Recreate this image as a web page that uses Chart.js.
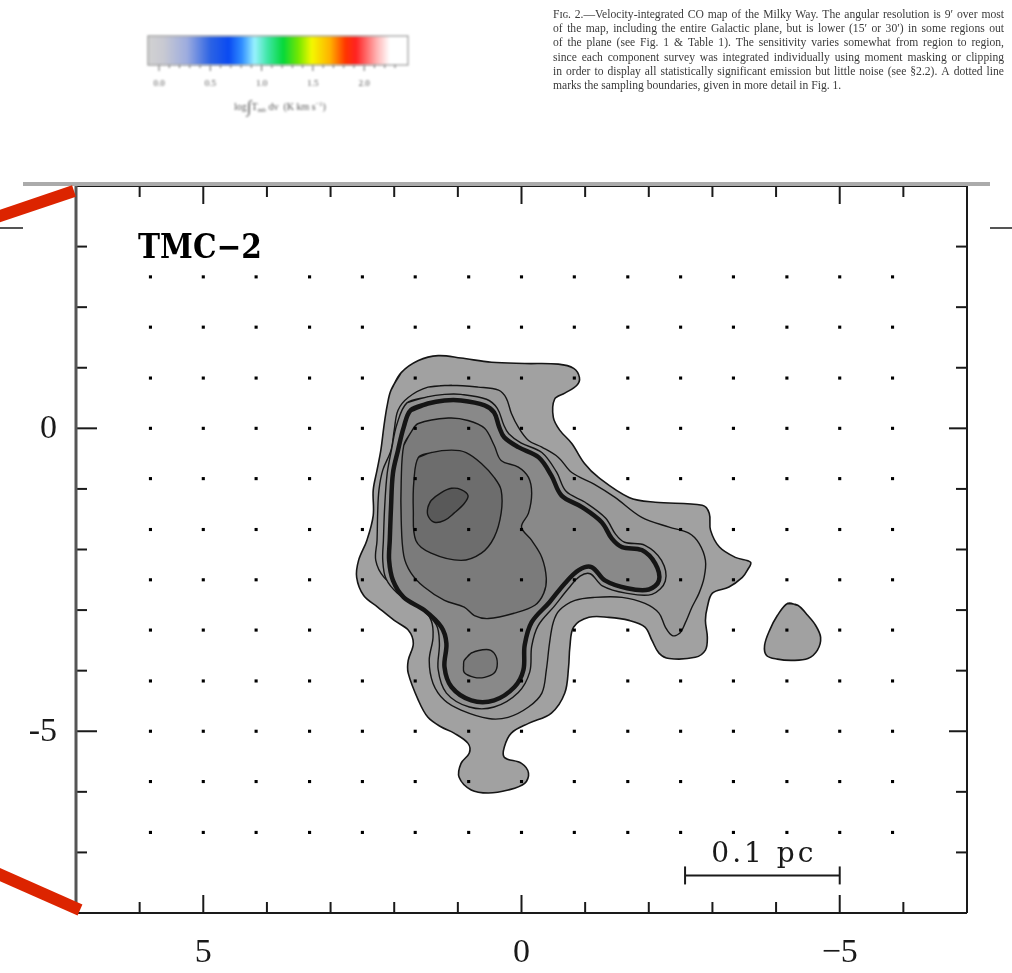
<!DOCTYPE html>
<html>
<head>
<meta charset="utf-8">
<title>TMC-2</title>
<script src="https://cdn.jsdelivr.net/npm/chart.js@4.4.1/dist/chart.umd.min.js"></script>
<style>
  html, body { margin: 0; padding: 0; background: #fff; }
  #wrap { width: 1012px; height: 973px; }
</style>
</head>
<body>
<div id="wrap"><canvas id="map" width="1012" height="973"></canvas></div>
<script>
// Axis ticks (offsets in arcmin)
const xMajorTicks = [5, 0, -5];
const xTickLabels = ['5', '0', '\u22125'];
const xMinorTicks = [6, 4, 3, 2, 1, -1, -2, -3, -4, -6];
const yMajorTicks = [0, -5];
const yTickLabels = ['0', '-5'];
const yMinorTicks = [3, 2, 1, -1, -2, -3, -4, -6, -7];

// Sampled map positions (50" grid)
const dotCols = [5.83, 5, 4.17, 3.33, 2.5, 1.67, 0.83, 0, -0.83, -1.67, -2.5, -3.33, -4.17, -5, -5.83];
const dotRows = [2.5, 1.67, 0.83, 0, -0.83, -1.67, -2.5, -3.33, -4.17, -5, -5.83, -6.67];

// Contour levels, lowest first: [x offset, y offset]
const level1 = [
  [2.05,0.63],[1.89,0.92],[1.62,1.12],[1.31,1.20],[0.95,1.16],[0.47,1.09],[-0.05,1.07],[-0.58,1.06],
  [-0.82,0.99],[-0.91,0.84],[-0.87,0.71],[-0.68,0.58],[-0.52,0.48],[-0.50,0.18],[-0.60,-0.03],[-0.79,-0.25],
  [-0.99,-0.58],[-1.21,-0.81],[-1.69,-1.14],[-2.10,-1.22],[-2.84,-1.27],[-2.95,-1.40],[-2.97,-1.68],[-3.11,-1.96],
  [-3.36,-2.13],[-3.60,-2.21],[-3.55,-2.34],[-3.47,-2.46],[-3.26,-2.62],[-3.00,-2.72],[-2.92,-2.95],[-2.89,-3.17],
  [-2.92,-3.45],[-2.89,-3.66],[-2.73,-3.78],[-2.32,-3.80],[-2.16,-3.71],[-2.05,-3.50],[-1.94,-3.28],[-1.69,-3.17],
  [-1.37,-3.12],[-1.06,-3.12],[-0.82,-3.28],[-0.76,-3.61],[-0.74,-3.94],[-0.68,-4.37],[-0.47,-4.70],[-0.11,-4.87],
  [0.16,-5.03],[0.27,-5.26],[0.27,-5.43],[0.00,-5.53],[-0.11,-5.69],[-0.05,-5.86],[0.21,-5.97],[0.52,-6.02],
  [0.79,-5.97],[0.98,-5.76],[0.95,-5.53],[0.82,-5.36],[0.84,-5.20],[1.06,-5.03],[1.26,-4.93],[1.47,-4.77],
  [1.62,-4.49],[1.78,-4.04],[1.78,-3.83],[1.70,-3.55],[1.78,-3.33],[2.00,-3.17],[2.26,-2.95],[2.48,-2.76],
  [2.59,-2.46],[2.56,-2.18],[2.43,-1.85],[2.33,-1.44],[2.33,-1.02],[2.27,-0.69],[2.21,-0.36],[2.16,0.05],[2.11,0.38]
];
const level1Knot = [
  [-4.18,-2.89],[-4.34,-2.92],[-4.50,-3.09],[-4.62,-3.25],[-4.70,-3.45],[-4.65,-3.66],[-4.50,-3.80],
  [-4.26,-3.83],[-4.02,-3.81],[-3.85,-3.75],[-3.82,-3.58],[-3.90,-3.33],[-4.02,-3.09]
];
const level2 = [
  [1.47,0.68],[1.10,0.71],[0.68,0.68],[0.36,0.63],[0.24,0.50],[0.16,0.25],[0.05,0.02],[-0.11,-0.20],
  [-0.32,-0.31],[-0.58,-0.48],[-0.79,-0.73],[-1.14,-0.92],[-1.47,-1.14],[-1.89,-1.47],[-2.32,-1.63],[-2.63,-1.73],
  [-2.79,-1.90],[-2.89,-2.18],[-2.87,-2.46],[-2.79,-2.72],[-2.68,-2.95],[-2.57,-3.22],[-2.49,-3.38],[-2.37,-3.42],
  [-2.26,-3.28],[-2.16,-3.05],[-1.94,-2.89],[-1.58,-2.79],[-1.15,-2.79],[-0.84,-2.84],[-0.60,-3.00],[-0.50,-3.20],
  [-0.44,-3.55],[-0.39,-3.99],[-0.32,-4.37],[-0.11,-4.60],[0.21,-4.77],[0.52,-4.79],[0.95,-4.65],[1.21,-4.49],
  [1.39,-4.21],[1.45,-3.83],[1.39,-3.45],[1.42,-3.17],[1.61,-2.89],[1.89,-2.67],[2.16,-2.46],[2.29,-2.18],
  [2.27,-1.85],[2.26,-1.40],[2.24,-1.02],[2.18,-0.69],[2.05,-0.36],[2.00,-0.03],[1.94,0.30],[1.78,0.51]
];
const level3 = [
  [1.80,0.42],[1.48,0.52],[1.21,0.56],[0.95,0.56],[0.55,0.48],[0.38,0.33],[0.28,0.06],[0.20,-0.09],
  [0.01,-0.24],[-0.32,-0.40],[-0.55,-0.72],[-0.70,-1.04],[-1.00,-1.22],[-1.32,-1.48],[-1.48,-1.75],[-1.62,-1.88],
  [-1.94,-1.93],[-2.20,-2.18],[-2.26,-2.52],[-2.05,-2.74],[-1.64,-2.72],[-1.27,-2.60],[-1.08,-2.40],[-0.92,-2.44],
  [-0.74,-2.64],[-0.52,-2.93],[-0.26,-3.26],[-0.16,-3.60],[-0.13,-4.02],[0.05,-4.36],[0.43,-4.60],[0.82,-4.60],
  [1.18,-4.37],[1.31,-3.98],[1.29,-3.55],[1.34,-3.24],[1.62,-2.94],[1.95,-2.72],[2.13,-2.48],[2.18,-2.18],
  [2.17,-1.85],[2.15,-1.30],[2.11,-0.74],[2.04,-0.34],[1.96,0.06]
];
const level4 = [
  [1.74,0.30],[1.47,0.41],[1.21,0.46],[0.95,0.46],[0.58,0.38],[0.43,0.26],[0.35,0.02],[0.27,-0.15],
  [0.05,-0.31],[-0.27,-0.48],[-0.47,-0.78],[-0.63,-1.11],[-0.95,-1.30],[-1.26,-1.55],[-1.42,-1.82],[-1.58,-1.96],
  [-1.89,-2.01],[-2.10,-2.23],[-2.16,-2.51],[-2.00,-2.66],[-1.66,-2.64],[-1.31,-2.51],[-1.10,-2.29],[-0.90,-2.34],
  [-0.68,-2.56],[-0.44,-2.87],[-0.16,-3.20],[-0.05,-3.58],[-0.03,-3.99],[0.11,-4.27],[0.43,-4.49],[0.79,-4.49],
  [1.10,-4.27],[1.21,-3.94],[1.18,-3.55],[1.26,-3.28],[1.53,-3.00],[1.85,-2.79],[2.02,-2.51],[2.08,-2.18],
  [2.07,-1.85],[2.05,-1.30],[2.02,-0.74],[1.94,-0.36],[1.85,0.02]
];
const level5 = [
  [1.85,-0.28],[1.74,-0.07],[1.62,0.08],[1.15,0.17],[0.84,0.13],[0.58,0.00],[0.43,-0.28],[0.32,-0.53],
  [0.05,-0.64],[-0.11,-0.81],[-0.16,-1.07],[-0.11,-1.40],[0.00,-1.63],[-0.16,-1.85],[-0.32,-2.13],[-0.39,-2.48],
  [-0.35,-2.72],[-0.21,-2.92],[0.11,-3.05],[0.52,-3.14],[0.74,-3.09],[0.90,-2.95],[1.21,-2.84],[1.53,-2.62],
  [1.74,-2.38],[1.85,-2.10],[1.89,-1.52],[1.89,-0.86]
];
const level5Knot = [
  [0.90,-3.83],[0.79,-3.71],[0.55,-3.65],[0.43,-3.71],[0.38,-3.88],[0.43,-4.04],[0.58,-4.11],[0.74,-4.11],
  [0.90,-4.03],[0.91,-3.91]
];
const level6 = [
  [1.62,-0.48],[1.42,-0.40],[1.10,-0.36],[0.87,-0.40],[0.63,-0.58],[0.43,-0.81],[0.32,-1.02],[0.32,-1.40],
  [0.43,-1.80],[0.63,-2.06],[0.95,-2.18],[1.42,-2.06],[1.66,-1.85],[1.70,-1.35],[1.69,-0.86]
];
const level7 = [
  [1.47,-1.30],[1.42,-1.19],[1.26,-1.06],[1.10,-0.99],[0.95,-1.01],[0.84,-1.11],[0.90,-1.24],[1.06,-1.40],
  [1.21,-1.52],[1.37,-1.55],[1.47,-1.44]
];

// Scale bar: 0.1 pc at the distance of TMC-2
const scaleBarFrom = -2.57;
const scaleBarTo = -5.0;
const scaleBarY = -7.38;
const scaleBarText = '0.1 pc';
const sourceName = 'TMC\u22122';

// Colour bar of the neighbouring figure
const colorbarTicks = ['0.0', '0.5', '1.0', '1.5', '2.0'];
const captionLines = [
  'F\u026a\u0262. 2.\u2014Velocity-integrated CO map of the Milky Way. The angular resolution is 9\u2032 over most',
  'of the map, including the entire Galactic plane, but is lower (15\u2032 or 30\u2032) in some regions out',
  'of the plane (see Fig. 1 & Table 1). The sensitivity varies somewhat from region to region,',
  'since each component survey was integrated individually using moment masking or clipping',
  'in order to display all statistically significant emission but little noise (see \u00a72.2). A dotted line',
  'marks the sampling boundaries, given in more detail in Fig. 1.'
];

// ---- styling of the contour levels ----
const contourStyles = [
  { pts: level1,     shade: '#a1a1a1', width: 1.6 },
  { pts: level1Knot, shade: '#a1a1a1', width: 1.6 },
  { pts: level2,     shade: '#9a9a9a', width: 1.4 },
  { pts: level3,     shade: '#939393', width: 1.4 },
  { pts: level4,     shade: '#898989', width: 4.5 },
  { pts: level5,     shade: '#7b7b7b', width: 1.4 },
  { pts: level5Knot, shade: '#7b7b7b', width: 1.4 },
  { pts: level6,     shade: '#6d6d6d', width: 1.4 },
  { pts: level7,     shade: '#595959', width: 1.4 }
];

const datasets = contourStyles.map((c, i) => ({
  type: 'line',
  data: c.pts.concat([c.pts[0], c.pts[1]]).map(p => ({ x: p[0], y: p[1] })),
  borderColor: '#151515',
  borderWidth: c.width,
  borderJoinStyle: 'round',
  borderCapStyle: 'round',
  shadeColor: c.shade,
  fill: false,
  tension: 0.35,
  pointRadius: 0,
  order: 100 - i
}));

const dotPoints = [];
for (const yy of dotRows) for (const xx of dotCols) dotPoints.push({ x: xx, y: yy });
datasets.push({
  type: 'scatter',
  data: dotPoints,
  pointStyle: 'rect',
  pointRadius: 2.2,
  backgroundColor: '#000',
  borderWidth: 0,
  order: 0
});

// fills each closed contour with its grey shade before the outline is stroked
const contourFill = {
  id: 'contourFill',
  beforeDatasetDraw(chart, args) {
    const ds = chart.data.datasets[args.index];
    if (!ds.shadeColor) return;
    const line = args.meta.dataset;
    const { ctx, chartArea } = chart;
    line.updateControlPoints(chartArea, 'x');
    ctx.save();
    ctx.beginPath();
    line.path(ctx);
    ctx.closePath();
    ctx.fillStyle = ds.shadeColor;
    ctx.fill();
    ctx.restore();
  }
};

function seg(ctx, x0, y0, x1, y1) {
  ctx.beginPath(); ctx.moveTo(x0, y0); ctx.lineTo(x1, y1); ctx.stroke();
}

// box, inward ticks, tick labels, scale bar and source name
const frame = {
  id: 'frame',
  afterDatasetsDraw(chart) {
    const { ctx, chartArea: a, scales: { x, y } } = chart;
    ctx.save();
    ctx.strokeStyle = '#1a1a1a';
    ctx.lineWidth = 2;
    const major = 18, minor = 11;
    xMajorTicks.forEach(v => { const p = x.getPixelForValue(v); seg(ctx, p, a.bottom, p, a.bottom - major); seg(ctx, p, a.top, p, a.top + major); });
    xMinorTicks.forEach(v => { const p = x.getPixelForValue(v); seg(ctx, p, a.bottom, p, a.bottom - minor); seg(ctx, p, a.top, p, a.top + minor); });
    yMajorTicks.forEach(v => { const p = y.getPixelForValue(v); seg(ctx, a.left, p, a.left + major + 3, p); seg(ctx, a.right, p, a.right - major, p); });
    yMinorTicks.forEach(v => { const p = y.getPixelForValue(v); seg(ctx, a.left, p, a.left + minor, p); seg(ctx, a.right, p, a.right - minor, p); });

    // frame
    seg(ctx, a.left, a.top, a.right, a.top);
    seg(ctx, a.right, a.top, a.right, a.bottom);
    seg(ctx, a.left, a.bottom, a.right, a.bottom);
    ctx.strokeStyle = '#555';
    ctx.lineWidth = 3;
    seg(ctx, a.left, a.top - 1, a.left, a.bottom + 1);

    // tick labels
    ctx.fillStyle = '#1a1a1a';
    ctx.font = '34px "Liberation Serif"';
    ctx.textAlign = 'center';
    ctx.textBaseline = 'alphabetic';
    xMajorTicks.forEach((v, i) => ctx.fillText(xTickLabels[i], x.getPixelForValue(v), a.bottom + 49));
    ctx.textAlign = 'right';
    ctx.textBaseline = 'middle';
    yMajorTicks.forEach((v, i) => ctx.fillText(yTickLabels[i], a.left - 19, y.getPixelForValue(v) + 1));

    // scale bar
    const bx0 = x.getPixelForValue(scaleBarFrom), bx1 = x.getPixelForValue(scaleBarTo), by = y.getPixelForValue(scaleBarY);
    ctx.strokeStyle = '#1a1a1a';
    ctx.lineWidth = 2;
    seg(ctx, bx0, by, bx1, by);
    seg(ctx, bx0, by - 9, bx0, by + 9);
    seg(ctx, bx1, by - 9, bx1, by + 9);
    ctx.font = '28px "DejaVu Serif"';
    ctx.textAlign = 'left';
    ctx.textBaseline = 'alphabetic';
    const sp = 3;
    if ('letterSpacing' in ctx) ctx.letterSpacing = sp + 'px';
    const tw = ctx.measureText(scaleBarText).width - sp;
    ctx.fillText(scaleBarText, (bx0 + bx1) / 2 - tw / 2, by - 13);
    if ('letterSpacing' in ctx) ctx.letterSpacing = '0px';

    // source name
    ctx.font = 'bold 34px "DejaVu Serif"';
    const nw = ctx.measureText(sourceName).width;
    ctx.save();
    ctx.translate(a.left + 62, a.top + 72);
    ctx.scale(124 / nw, 0.96);
    ctx.fillStyle = '#000';
    ctx.fillText(sourceName, 0, 0);
    ctx.restore();
    ctx.restore();
  }
};

function justify(ctx, text, x0, y0, width, last) {
  if (last) { ctx.fillText(text, x0, y0); return; }
  const words = text.split(' ');
  const total = words.reduce((s, w) => s + ctx.measureText(w).width, 0);
  const gap = (width - total) / (words.length - 1);
  let cx = x0;
  words.forEach(w => { ctx.fillText(w, cx, y0); cx += ctx.measureText(w).width + gap; });
}

// surroundings of the panel: zoom guides, neighbouring colour bar and caption
const surroundings = {
  id: 'surroundings',
  beforeDraw(chart) {
    const { ctx } = chart;
    ctx.save();
    ctx.fillStyle = '#fff';
    ctx.fillRect(0, 0, chart.width, chart.height);
    ctx.restore();
  },
  afterDraw(chart) {
    const { ctx, chartArea: a } = chart;
    ctx.save();
    // rule above the panel and edge stubs
    ctx.strokeStyle = '#ababab';
    ctx.lineWidth = 4;
    seg(ctx, 23, a.top - 2, 990, a.top - 2);
    ctx.strokeStyle = '#555';
    ctx.lineWidth = 2;
    seg(ctx, 0, 228, 23, 228);
    seg(ctx, 990, 228, 1012, 228);
    // red zoom guides
    ctx.strokeStyle = '#dc2400';
    ctx.lineWidth = 12;
    ctx.lineCap = 'butt';
    seg(ctx, -6, 218, 74, 191);
    seg(ctx, -6, 872, 80, 910);

    // colour bar
    ctx.filter = 'blur(0.9px)';
    const cx0 = 148, cx1 = 408, cy0 = 36, cy1 = 65;
    const g = ctx.createLinearGradient(cx0, 0, cx1, 0);
    [[0, '#d2d2d2'], [0.06, '#c8c9d2'], [0.15, '#9dacdf'], [0.24, '#2c63e4'], [0.31, '#0a4af2'],
     [0.36, '#2f8cff'], [0.41, '#98f2ff'], [0.46, '#3fe6a6'], [0.52, '#05d83a'], [0.58, '#77e800'],
     [0.63, '#f4f800'], [0.70, '#ffb200'], [0.76, '#ff3500'], [0.80, '#ff2222'], [0.88, '#ffb3b3'],
     [0.93, '#ffffff'], [1, '#ffffff']].forEach(s => g.addColorStop(s[0], s[1]));
    ctx.fillStyle = g;
    ctx.fillRect(cx0, cy0, cx1 - cx0, cy1 - cy0);
    ctx.strokeStyle = '#999';
    ctx.lineWidth = 1.2;
    ctx.strokeRect(cx0, cy0, cx1 - cx0, cy1 - cy0);
    ctx.strokeStyle = '#666';
    ctx.lineWidth = 1;
    for (let k = 0; k <= 23; k++) {
      const tx = 159 + k * 10.26;
      seg(ctx, tx, cy1, tx, cy1 + (k % 5 === 0 ? 6 : 3));
    }
    ctx.fillStyle = '#555';
    ctx.font = '9px "Liberation Serif"';
    ctx.textAlign = 'center';
    ctx.textBaseline = 'middle';
    colorbarTicks.forEach((t, i) => ctx.fillText(t, 159 + i * 51.3, 84));
    // colour bar title: log ∫T_mb dv (K km s^-1)
    ctx.textAlign = 'left';
    ctx.textBaseline = 'alphabetic';
    const parts = [
      ['log', '10px "Liberation Serif"', 0],
      ['\u222b', '17px "Liberation Serif"', 2],
      ['T', '10px "Liberation Serif"', 0],
      ['mb', '6.5px "Liberation Serif"', 2],
      [' dv  (K km s', '10px "Liberation Serif"', 0],
      ['\u22121', '6.5px "Liberation Serif"', -4],
      [')', '10px "Liberation Serif"', 0]
    ];
    let total = 0;
    parts.forEach(p => { ctx.font = p[1]; total += ctx.measureText(p[0]).width; });
    let px = 280 - total / 2;
    parts.forEach(p => { ctx.font = p[1]; ctx.fillText(p[0], px, 110 + p[2]); px += ctx.measureText(p[0]).width; });

    // caption
    ctx.filter = 'blur(0.75px)';
    ctx.fillStyle = '#3a3a3a';
    ctx.font = '11.6px "Liberation Serif"';
    captionLines.forEach((l, i) => justify(ctx, l, 553, 18 + i * 14.2, 451, i === captionLines.length - 1));
    ctx.filter = 'none';
    ctx.restore();
  }
};

new Chart(document.getElementById('map'), {
  type: 'line',
  data: { datasets },
  options: {
    responsive: false,
    animation: false,
    devicePixelRatio: 1,
    events: [],
    layout: { padding: { left: 76, right: 45, top: 186, bottom: 60 } },
    plugins: { legend: { display: false }, tooltip: { enabled: false } },
    scales: {
      x: { type: 'linear', min: -7, max: 7, reverse: true, display: false },
      y: { type: 'linear', min: -8, max: 4, display: false }
    }
  },
  plugins: [surroundings, contourFill, frame]
});
</script>
</body>
</html>
